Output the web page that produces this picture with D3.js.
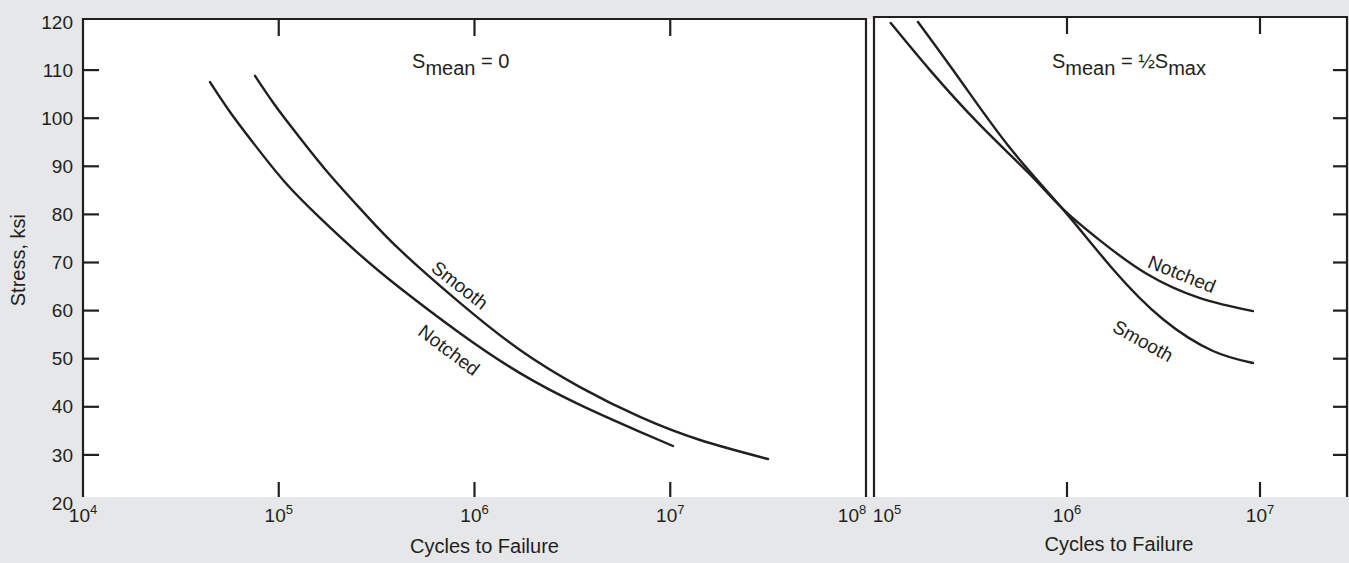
<!DOCTYPE html>
<html>
<head>
<meta charset="utf-8">
<script src="https://cdn.jsdelivr.net/npm/d3@7"></script>
<style>
  body { margin: 0; background: #e6e7e8; }
  text { font-family: "Liberation Sans", Arial, sans-serif; fill: #231f20; }
</style>
</head>
<body>
<svg id="chart" width="1349" height="563"></svg>
<script>
// stress axis (ksi)
const stressTicks = [30, 40, 50, 60, 70, 80, 90, 100, 110]
const stressLabels = [20, 30, 40, 50, 60, 70, 80, 90, 100, 110, 120]

// cycles axis, powers of ten
const leftDecades = [4, 5, 6, 7, 8]
const rightDecades = [5, 6, 7]

// S-N curves, [cycles, stress ksi]
const leftSmooth = [[75620, 108.8], [95700, 102.7], [128400, 95.9], [182700, 88.2], [275800, 80.1],
  [416300, 72.6], [843200, 61.6], [1708000, 51.8], [3459000, 44.1], [7006000, 37.9],
  [14190000, 33.1], [31580000, 29.15]]
const leftNotched = [[44560, 107.5], [56360, 101.3], [75620, 94.4], [107600, 86.7], [162400, 79.3],
  [260100, 71.6], [416300, 64.7], [843200, 55.3], [1708000, 47.0], [3459000, 40.4],
  [7006000, 34.8], [10330000, 31.85]]
const rightSmooth = [[169000, 120], [279000, 108], [507000, 93.8], [942000, 81.3], [1731000, 68.6],
  [3144000, 58.2], [5707000, 51.6], [9198000, 49.1]]
const rightNotched = [[122000, 119.8], [195000, 110.0], [354000, 98.6], [643000, 88.3], [942000, 81.3],
  [1480000, 74.6], [2597000, 67.6], [4888000, 62.6], [9198000, 59.9]]

// curve labels: text, cycles, stress, angle
const leftCurveLabels = [["Smooth", 843000, 65.3, 38], ["Notched", 741000, 51.8, 37]]
const rightCurveLabels = [["Notched", 3940000, 67.6, 22], ["Smooth", 2480000, 53.7, 29]]

const ink = "#231f20"
const svg = d3.select("#chart")

const y = d3.scaleLinear().domain([20, 120]).range([503, 22])
const xLeft = d3.scaleLog().domain([1e4, 1e8]).range([83, 866])
const xRight = d3.scaleLog().domain([1e5, 1e7]).range([874, 1260])

const bottom = 497

// white plot areas
svg.append("rect").attr("x", 83).attr("y", 19).attr("width", 783).attr("height", bottom - 19).attr("fill", "#fff")
svg.append("rect").attr("x", 866).attr("y", 19).attr("width", 8).attr("height", bottom - 19).attr("fill", "#fff")
svg.append("rect").attr("x", 874).attr("y", 17).attr("width", 473).attr("height", bottom - 17).attr("fill", "#fff")

function drawPanel(x, top, right, tickDecades, curves, curveLabels) {
  let g = svg.append("g")
  let left = x.range()[0]

  // frame: left, top, right edges
  g.append("path")
    .attr("d", `M${left},${bottom}V${top}H${right}V${bottom}`)
    .attr("fill", "none").attr("stroke", ink).attr("stroke-width", 2.2)

  // decade ticks top and bottom, inside
  tickDecades.forEach(p => {
    let px = x(Math.pow(10, p))
    g.append("line").attr("x1", px).attr("x2", px).attr("y1", top).attr("y2", top + 17)
      .attr("stroke", ink).attr("stroke-width", 2.2)
    g.append("line").attr("x1", px).attr("x2", px).attr("y1", bottom).attr("y2", bottom - 15)
      .attr("stroke", ink).attr("stroke-width", 2.2)
  })

  let line = d3.line()
    .x(d => x(d[0]))
    .y(d => y(d[1]))
    .curve(d3.curveNatural)

  curves.forEach(c => {
    g.append("path").attr("d", line(c))
      .attr("fill", "none").attr("stroke", ink).attr("stroke-width", 2.4)
      .attr("stroke-linecap", "round")
  })

  curveLabels.forEach(([t, n, s, a]) => {
    g.append("text")
      .attr("transform", `translate(${x(n)},${y(s)}) rotate(${a})`)
      .attr("text-anchor", "middle").attr("dy", "0.35em")
      .style("font-size", "19px")
      .text(t)
  })
  return g
}

drawPanel(xLeft, 19, 866, [5, 6, 7], [leftSmooth, leftNotched], leftCurveLabels)
drawPanel(xRight, 17, 1347, [6, 7], [rightSmooth, rightNotched], rightCurveLabels)

// stress ticks, left and far right
stressTicks.forEach(v => {
  svg.append("line").attr("x1", 83).attr("x2", 99).attr("y1", y(v)).attr("y2", y(v))
    .attr("stroke", ink).attr("stroke-width", 2.2)
  svg.append("line").attr("x1", 1347).attr("x2", 1333).attr("y1", y(v)).attr("y2", y(v))
    .attr("stroke", ink).attr("stroke-width", 2.2)
})
stressLabels.forEach(v => {
  svg.append("text").attr("x", 73).attr("y", y(v)).attr("dy", "0.35em")
    .attr("text-anchor", "end").style("font-size", "19px").text(v)
})

// cycles tick labels
function decadeLabel(x, p, dx) {
  let t = svg.append("text")
    .attr("x", x(Math.pow(10, p)) + dx).attr("y", 522)
    .attr("text-anchor", "middle").style("font-size", "19px")
  t.append("tspan").text("10")
  t.append("tspan").attr("dy", -8).style("font-size", "13px").text(p)
}
leftDecades.forEach(p => decadeLabel(xLeft, p, p === 8 ? -14 : 0))
rightDecades.forEach(p => decadeLabel(xRight, p, p === 5 ? 13 : 0))

// axis titles
svg.append("text").attr("x", xLeft(1e6) + 10).attr("y", 553).attr("text-anchor", "middle")
  .style("font-size", "20px").text("Cycles to Failure")
svg.append("text").attr("x", 1119).attr("y", 551).attr("text-anchor", "middle")
  .style("font-size", "20px").text("Cycles to Failure")
svg.append("text").attr("transform", `translate(25,${y(70.5)}) rotate(-90)`)
  .attr("text-anchor", "middle").style("font-size", "20px").text("Stress, ksi")

// S mean annotations
function annotation(x, n, parts) {
  let t = svg.append("text").attr("x", x(n)).attr("y", y(110.4)).style("font-size", "20px")
  parts.forEach(([s, dy]) => t.append("tspan").attr("dy", dy).text(s))
}
annotation(xLeft, 480000, [["S", 0], ["mean", 7], [" = 0", -7]])
annotation(xRight, 836000, [["S", 0], ["mean", 7], [" = \u00bd", -7], ["S", 0], ["max", 7]])
</script>
</body>
</html>
